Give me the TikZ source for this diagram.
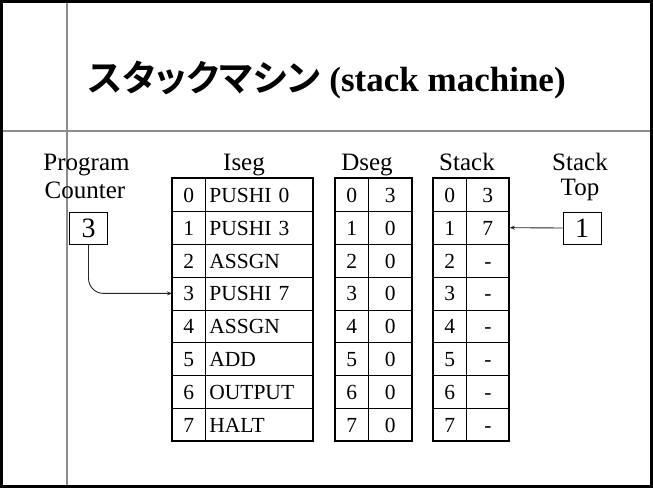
\documentclass[tikz,border=0pt]{standalone}
\usepackage{fontspec}
\setmainfont{Liberation Serif}
\newfontfamily\jpfont{Noto Sans CJK JP Bold}[RawFeature=+palt]
\usetikzlibrary{arrows.meta}
\definecolor{rulegray}{RGB}{140,140,140}

\begin{document}
\begin{tikzpicture}[x=1pt,y=-1pt,
  lbl/.style={font=\fontsize{25}{25}\selectfont, inner sep=0pt, anchor=base},
  cellbase/.style={draw, line width=0.7pt, anchor=north west, inner ysep=0pt,
    minimum height=32.875pt, text height=15pt, text depth=0pt,
    font=\fontsize{21.5}{21.5}\selectfont},
  idx/.style={cellbase, minimum width=33pt, inner xsep=0pt},
  val/.style={cellbase, minimum width=#1, inner xsep=0pt},
  opc/.style={cellbase, text width=100pt, align=left, inner xsep=4pt},
  frame/.style={line width=1.8pt},
  regbox/.style={draw, line width=1pt, minimum width=38pt, minimum height=32pt,
    inner sep=0pt, text height=19pt, text depth=0pt, font=\fontsize{28}{28}\selectfont},
  link/.style={line width=0.9pt, draw=black!85, -{Stealth[length=5pt,width=4pt]}}
]
\useasboundingbox (0,0) rectangle (653,488);

% slide guides and frame
\draw[rulegray, line width=2pt] (67,0) -- (67,488);
\draw[rulegray, line width=2pt] (0,131) -- (653,131);
\draw[line width=3pt] (1.5,1.5) rectangle (651.5,486.5);

% title
\node[anchor=base west, inner sep=0pt] (title) at (88,91)
  {{\jpfont\fontsize{36.5}{36.5}\selectfont スタックマシン}\hspace{9pt}{\bfseries\fontsize{35}{35}\selectfont (stack machine)}};

% column headings
\node[lbl] (hprog) at (86.5,170) {Program};
\node[lbl] (hcnt)  at (85,198) {Counter};
\node[lbl] (hiseg) at (244,170) {Iseg};
\node[lbl] (hdseg) at (367,170) {Dseg};
\node[lbl] (hstk)  at (467,170) {Stack};
\node[lbl] (hstk2) at (580,170) {Stack};
\node[lbl] (htop)  at (580,195) {Top};

% Iseg
\foreach \op [count=\r from 0] in {PUSHI 0,PUSHI 3,ASSGN,PUSHI 7,ASSGN,ADD,OUTPUT,HALT} {
  \node[idx] (i\r) at (172,{178+\r*32.875}) {\r};
  \node[opc] (o\r) at (205,{178+\r*32.875}) {\op};
}
\draw[frame] (172,178) rectangle (313,441);

% Dseg
\foreach \v [count=\r from 0] in {3,0,0,0,0,0,0,0} {
  \node[idx] (di\r) at (335,{178+\r*32.875}) {\r};
  \node[val=44pt] (dv\r) at (368,{178+\r*32.875}) {\v};
}
\draw[frame] (335,178) rectangle (412,441);

% Stack
\foreach \v [count=\r from 0] in {3,7,-,-,-,-,-,-} {
  \node[idx] (si\r) at (433,{178+\r*32.875}) {\r};
  \node[val=43pt] (sv\r) at (466,{178+\r*32.875}) {\v};
}
\draw[frame] (433,178) rectangle (509,441);

% registers
\node[regbox] (pc)  at (88.5,228) {3};
\node[regbox] (top) at (582,228) {1};

% pointers
\draw[link, rounded corners=15pt] (pc.south) |- (i3.west);
\draw[link] (top.west) -- (sv1.east);
\end{tikzpicture}
\end{document}
